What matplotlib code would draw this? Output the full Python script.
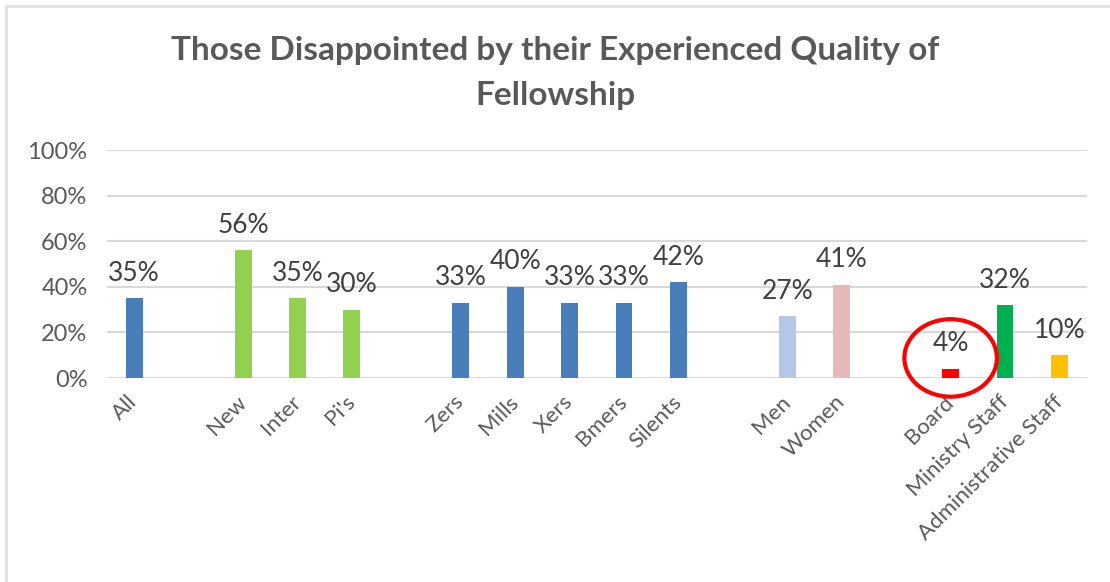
import matplotlib.pyplot as plt
from matplotlib.patches import Ellipse
from matplotlib.lines import Line2D

plt.rcParams['font.family'] = ['Lato', 'DejaVu Sans']

# groups are separated by empty slots
categories = ["All", "", "New", "Inter", "Pi's", "",
              "Zers", "Mills", "Xers", "Bmers", "Silents", "",
              "Men", "Women", "", "Board", "Ministry Staff", "Administrative Staff"]
values = [35, None, 56, 35, 30, None,
          33, 40, 33, 33, 42, None,
          27, 41, None, 4, 32, 10]
colors = ["#4a7ebb", None, "#92d050", "#92d050", "#92d050", None,
          "#4a7ebb", "#4a7ebb", "#4a7ebb", "#4a7ebb", "#4a7ebb", None,
          "#b4c7e7", "#e6b9b8", None, "#ff0000", "#00b050", "#ffc000"]
highlight = "Board"

text_col = "#595959"

fig = plt.figure(figsize=(11.1, 5.82), dpi=100)
ax = fig.add_axes([0.0964, 0.3505, 0.8826, 0.3917])

for i, (v, c) in enumerate(zip(values, colors)):
    if v is None:
        continue
    ax.bar(i, v / 100, width=0.31, color=c, zorder=3)
    ax.annotate(f"{v}%", (i, v / 100), xytext=(0, 9), textcoords="offset points",
                ha="center", va="bottom", fontsize=19, color="#404040")

# red ring around the board bar
hi = categories.index(highlight)
ax.add_patch(Ellipse((hi, 0.088), width=1.7, height=0.34, fill=False,
                     edgecolor="#ff0000", linewidth=3, zorder=4, clip_on=False))

ax.set_xlim(-0.5, len(categories) - 0.5)
ax.set_ylim(0, 1.0)
ax.set_yticks([0, 0.2, 0.4, 0.6, 0.8, 1.0])
ax.set_yticklabels(["0%", "20%", "40%", "60%", "80%", "100%"], fontsize=17, color=text_col)
ax.set_xticks(range(len(categories)))
ax.set_xticklabels(categories, rotation=45, ha="right", va="center",
                   rotation_mode="anchor", fontsize=16, color=text_col)
ax.tick_params(length=0)
ax.tick_params(axis="y", pad=14)
ax.tick_params(axis="x", pad=15)
ax.grid(axis="y", color="#d9d9d9", linewidth=1.5, zorder=0)
for s in ax.spines.values():
    s.set_visible(False)

fig.text(0.5, 0.874, "Those Disappointed by their Experienced Quality of\nFellowship",
         ha="center", va="center", fontsize=24, fontweight="bold", color=text_col,
         linespacing=1.66)

# frame edges along top and left
fig.add_artist(Line2D([0.005, 1.0], [0.9897, 0.9897], color="#e0e0e0", linewidth=2))
fig.add_artist(Line2D([0.0055, 0.0055], [0.0, 0.99], color="#e0e0e0", linewidth=2))

fig.savefig("out.png", dpi=100)
